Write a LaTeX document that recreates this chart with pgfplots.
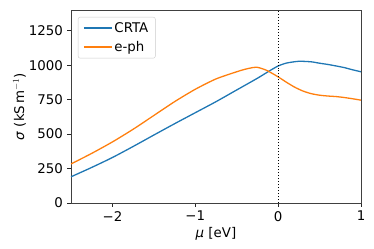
\documentclass[border=0pt]{standalone}
\usepackage{pgfplots}
\pgfplotsset{compat=1.18}
\usepackage{fontspec}
\setmainfont{DejaVu Sans}
\usetikzlibrary{calc}
\definecolor{tabblue}{HTML}{1F77B4}
\definecolor{taborange}{HTML}{FF7F0E}
\begin{document}
\fontsize{13.4}{15}\selectfont
\begin{tikzpicture}
\begin{axis}[
  scale only axis,
  width=290bp, height=193bp,
  xmin=-2.5, xmax=1, ymin=0, ymax=1400,
  xtick={-2,-1,0,1}, xticklabels={−2,−1,0,1},
  ytick={0,250,500,750,1000,1250}, yticklabels={0,250,500,750,1000,1250},
  tick align=outside, major tick length=3.5bp,
  tick style={black!85, line width=0.8pt},
  axis line style={black!75, line width=0.8pt},
  xtick pos=bottom, ytick pos=left,
  /pgf/number format/assume math mode=true,
  ticklabel style={font=\fontsize{13.4}{15}\selectfont},
  label style={font=\fontsize{13.4}{15}\selectfont},
  xlabel={\textit{μ} [eV]},
  ylabel={\textit{σ} (kS\,m$^{-1}$)},
  xlabel style={yshift=3bp},
  ylabel style={yshift=-6bp},
  legend style={at={(0.024,0.964)}, anchor=north west, draw=black!20, rounded corners=2pt, fill=white, fill opacity=0.8, text opacity=1, font=\fontsize{13.4}{15}\selectfont, inner xsep=5bp, inner ysep=3bp, row sep=3bp},
  legend cell align=left,
  legend image code/.code={\draw[#1] (0bp,0bp) -- (28bp,0bp);},
]
\addplot[color=tabblue, line width=1.3pt, smooth, tension=0.4] coordinates {
(-2.5,190) (-2.25,258) (-2.0,330) (-1.75,410) (-1.5,493) (-1.25,575) (-1.0,655) (-0.75,735) (-0.5,820) (-0.25,905) (-0.1,960) (0,994) (0.1,1015) (0.25,1028) (0.4,1024) (0.5,1014) (0.6,1005) (0.7,994) (0.8,982) (0.9,966) (1.0,952)
};
\addlegendentry{CRTA}
\addplot[color=taborange, line width=1.3pt, smooth, tension=0.4] coordinates {
(-2.5,283) (-2.25,360) (-2.0,443) (-1.75,535) (-1.5,635) (-1.25,735) (-1.0,825) (-0.75,900) (-0.5,952) (-0.4,970) (-0.3,983) (-0.25,984) (-0.2,976) (-0.15,965) (-0.1,950) (0,915) (0.1,876) (0.2,840) (0.3,812) (0.4,793) (0.5,782) (0.6,776) (0.7,772) (0.8,765) (0.9,756) (1.0,746)
};
\addlegendentry{e-ph}
\draw[black, dotted, line width=1pt] (axis cs:0,0) -- (axis cs:0,1400);
\end{axis}
\pgfresetboundingbox
\path ($(current axis.south west)+(-71bp,-46bp)$) rectangle ($(current axis.north east)+(13bp,10bp)$);
\end{tikzpicture}
\end{document}
